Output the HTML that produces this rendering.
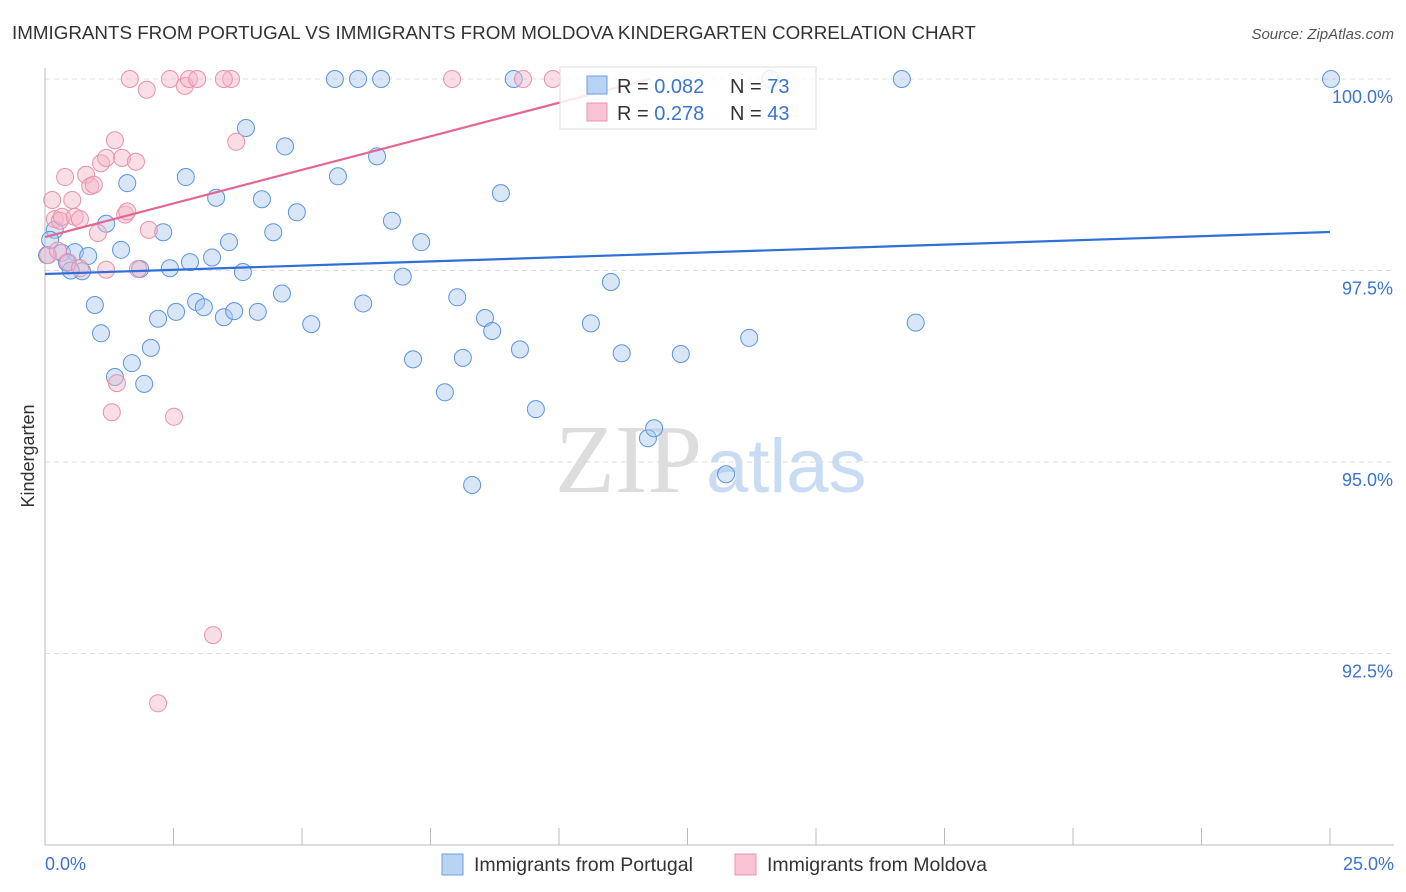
<!DOCTYPE html>
<html><head><meta charset="utf-8"><style>
body{margin:0;background:#fff;font-family:"Liberation Sans",sans-serif;}
svg{display:block}
</style></head><body>
<svg id="c" width="1406" height="892">
<text x="12" y="39" font-size="18.8" fill="#333">IMMIGRANTS FROM PORTUGAL VS IMMIGRANTS FROM MOLDOVA KINDERGARTEN CORRELATION CHART</text>
<text x="1394" y="39" font-size="15" fill="#555" text-anchor="end" font-style="italic">Source: ZipAtlas.com</text>
<text x="34" y="456" font-size="18" fill="#333" text-anchor="middle" transform="rotate(-90 34 456)">Kindergarten</text>
<text x="555" y="492" font-size="98" fill="#ddd" font-family="Liberation Serif,serif">ZIP<tspan fill="#c9dcf3" font-family="Liberation Sans,sans-serif" font-size="76" dx="4">atlas</tspan></text>
<g id="grid"></g><g id="pts"></g><g id="lines"></g>
<g>
<rect x="560" y="67" width="256" height="62" fill="#fff" fill-opacity="0.85" stroke="#ddd"/>
<rect x="587" y="76" width="20" height="18" fill="#b9d3f5" stroke="#6a9fe0"/>
<rect x="587" y="103" width="20" height="18" fill="#f8c4d3" stroke="#ea92ae"/>
<text x="617" y="93" font-size="20" fill="#333">R = <tspan fill="#3a74d0">0.082</tspan></text>
<text x="730" y="93" font-size="20" fill="#333">N = <tspan fill="#3a74d0">73</tspan></text>
<text x="617" y="120" font-size="20" fill="#333">R = <tspan fill="#3a74d0"> 0.278</tspan></text>
<text x="730" y="120" font-size="20" fill="#333">N = <tspan fill="#3a74d0">43</tspan></text>
</g>
<g>
<rect x="442" y="854" width="21" height="21" fill="#b9d3f5" stroke="#6a9fe0"/>
<text x="474" y="871" font-size="19.5" fill="#333">Immigrants from Portugal</text>
<rect x="735" y="854" width="21" height="21" fill="#f8c4d3" stroke="#ea92ae"/>
<text x="767" y="871" font-size="19.5" fill="#333">Immigrants from Moldova</text>
</g>
<text x="45" y="870" font-size="18" fill="#3a74d0">0.0%</text>
<text x="1394" y="870" font-size="18" fill="#3a74d0" text-anchor="end">25.0%</text>
</svg>
<script>
const yTicks=[100,97.5,95,92.5];
const yTickLabels=["100.0%","97.5%","95.0%","92.5%"];
const xTicks=[0,2.5,5,7.5,10,12.5,15,17.5,20,22.5,25];
const blueX=[0.19,0.33,0.58,0.84,0.72,0.97,1.09,1.19,1.48,1.6,1.36,1.69,1.93,1.85,2.06,2.2,2.3,2.43,2.55,2.74,2.82,2.94,3.09,3.25,3.33,3.48,3.58,3.68,3.85,3.91,4.14,4.22,4.44,4.61,4.67,4.9,5.18,5.64,5.7,6.09,6.19,6.46,6.54,6.75,6.96,7.16,7.32,7.78,8.02,8.13,8.31,8.56,8.7,8.87,9.12,9.24,9.55,10.62,11.01,11.22,11.73,11.85,12.37,13.25,13.7,14.11,16.67,16.94,25.02,0.04,0.1,0.43,0.5];
const blueY=[98.03,97.73,97.74,97.69,97.49,97.05,96.68,98.11,97.77,98.64,96.11,96.29,96.02,97.52,96.49,96.87,98.0,97.53,96.96,98.72,97.61,97.09,97.02,97.67,98.45,96.89,97.87,96.97,97.48,99.36,96.96,98.43,98.0,97.2,99.12,98.26,96.8,100,98.73,100,97.07,98.99,100,98.15,97.42,96.34,97.87,95.91,97.15,96.36,94.7,96.88,96.71,98.51,100,96.47,95.69,96.81,97.35,96.42,95.31,95.44,96.41,94.84,96.62,100,100,96.82,100,97.7,97.9,97.6,97.5];
const pinkX=[0.14,0.19,0.29,0.39,0.53,0.33,0.58,0.68,0.8,0.88,0.95,1.03,1.09,1.19,1.19,1.3,1.36,1.4,1.5,1.56,1.6,1.77,1.65,1.81,1.98,2.02,2.2,2.43,2.51,2.72,2.8,2.96,3.27,3.62,3.72,3.48,7.92,9.3,9.88,0.06,0.25,0.45,0.68];
const pinkY=[98.42,98.17,98.15,98.72,98.42,98.2,98.2,98.17,98.75,98.6,98.62,97.99,98.9,97.51,98.97,95.65,99.2,96.03,98.97,98.23,98.27,98.92,100,97.52,99.86,98.03,91.85,100,95.59,99.91,100,100,92.74,100,99.18,100,100,100,100,97.7,97.76,97.61,97.53];
const blueTrend=[97.454,98.003];
const pinkTrend=[97.937,102.32];
const X0=45,X1=1330,Y100=79,PX=76.6;
const sx=v=>X0+(v/25)*(X1-X0);
const sy=v=>Y100+(100-v)*PX;
const NS="http://www.w3.org/2000/svg";
const mk=(t,a,p)=>{const e=document.createElementNS(NS,t);for(const k in a)e.setAttribute(k,a[k]);p.appendChild(e);return e;};
const grid=document.getElementById('grid');
yTicks.forEach((t,i)=>{
 const l=mk('line',{x1:45,x2:1394,y1:sy(t),y2:sy(t),stroke:'#ddd','stroke-dasharray':'5,4'},grid);
 
 
 const tx=mk('text',{x:1393,y:sy(t)+24,'font-size':18,fill:'#3a74d0','text-anchor':'end'},grid);
 tx.textContent=yTickLabels[i];
 
 
});
const ax=mk('line',{x1:45,x2:45,y1:68,y2:845,stroke:'#bbb'},grid);


const bx=mk('line',{x1:45,x2:1394,y1:845,y2:845,stroke:'#bbb'},grid);


xTicks.forEach(t=>{
 const l=mk('line',{x1:sx(t),x2:sx(t),y1:828,y2:845,stroke:'#bbb'},grid);
 
 
});
const pts=document.getElementById('pts');
blueX.forEach((x,i)=>{
 const c=mk('circle',{cx:sx(x),cy:sy(blueY[i]),r:8.5,fill:'#a9c8f0','fill-opacity':0.45,stroke:'#5b95e0','stroke-width':1},pts);
 
 
});
pinkX.forEach((x,i)=>{
 const c=mk('circle',{cx:sx(x),cy:sy(pinkY[i]),r:8.5,fill:'#f5b6c8','fill-opacity':0.45,stroke:'#e991ad','stroke-width':1},pts);
 
 
});
const lines=document.getElementById('lines');
const bl=mk('line',{x1:sx(0),y1:sy(blueTrend[0]),x2:sx(25),y2:sy(blueTrend[1]),stroke:'#2f6fd6','stroke-width':2.2},lines);


const pe=11.77;
const pl=mk('line',{x1:sx(0),y1:sy(pinkTrend[0]),x2:sx(pe),y2:sy(pinkTrend[0]+(pinkTrend[1]-pinkTrend[0])*pe/25),stroke:'#e5668e','stroke-width':2.2},lines);


</script>
</body></html>
